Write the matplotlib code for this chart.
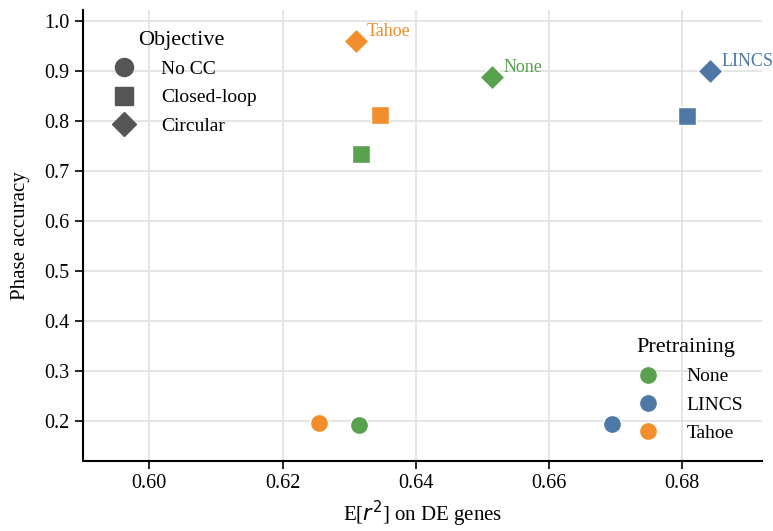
import matplotlib
matplotlib.use("Agg")
import matplotlib.pyplot as plt
from matplotlib.lines import Line2D

plt.rcParams['font.family'] = ['Liberation Serif', 'DejaVu Serif']

pretraining = ["None", "LINCS", "Tahoe"]
colors = {"None": "#59a14f", "LINCS": "#4e79a7", "Tahoe": "#f28e2b"}
objectives = ["No CC", "Closed-loop", "Circular"]
markers = {"No CC": "o", "Closed-loop": "s", "Circular": "D"}

# values per pretraining: [No CC, Closed-loop, Circular]
r2_none = [0.6315, 0.6318, 0.6515]
acc_none = [0.192, 0.735, 0.888]
r2_lincs = [0.6695, 0.6807, 0.6842]
acc_lincs = [0.193, 0.810, 0.900]
r2_tahoe = [0.6255, 0.6347, 0.6310]
acc_tahoe = [0.196, 0.812, 0.961]

data = {"None": (r2_none, acc_none), "LINCS": (r2_lincs, acc_lincs), "Tahoe": (r2_tahoe, acc_tahoe)}
sizes = {"No CC": 170, "Closed-loop": 165, "Circular": 160}

fig = plt.figure(figsize=(7.73, 5.31), dpi=100)
ax = fig.add_axes([0.107, 0.132, 0.879, 0.849])

for p in pretraining:
    xs, ys = data[p]
    for i, o in enumerate(objectives):
        ax.scatter(xs[i], ys[i], marker=markers[o], s=sizes[o], color=colors[p],
                   edgecolor="white", linewidth=1.0, zorder=3)
    ax.annotate(p, (xs[2], ys[2]), xytext=(8, 0.5), textcoords="offset points",
                color=colors[p], fontsize=13, va="bottom", ha="left")

ax.set_xlim(0.590, 0.692)
ax.set_ylim(0.12, 1.022)
ax.set_xticks([0.60, 0.62, 0.64, 0.66, 0.68])
ax.set_xticklabels(["0.60", "0.62", "0.64", "0.66", "0.68"])
ax.set_yticks([0.2, 0.3, 0.4, 0.5, 0.6, 0.7, 0.8, 0.9, 1.0])
ax.grid(True, color="#e0e0e0", linewidth=1.2, zorder=0)
ax.set_axisbelow(True)
for s in ["top", "right"]:
    ax.spines[s].set_visible(False)
for s in ["left", "bottom"]:
    ax.spines[s].set_linewidth(1.5)
ax.tick_params(labelsize=14.5, width=1.2, length=6)
ax.set_xlabel(r"E[$r^2$] on DE genes", fontsize=15, labelpad=4)
ax.set_ylabel("Phase accuracy", fontsize=15, labelpad=10)

h1 = [Line2D([], [], marker=markers[o], color="#555555", linestyle="",
             markersize=13 if o != "Circular" else 12) for o in objectives]
leg1 = ax.legend(h1, objectives, title="Objective", loc="upper left", frameon=False,
                 fontsize=14, title_fontsize=16, bbox_to_anchor=(0.007, 0.993),
                 handletextpad=0.9, labelspacing=0.55)
ax.add_artist(leg1)
h2 = [Line2D([], [], marker="o", color=colors[p], linestyle="", markersize=11) for p in pretraining]
ax.legend(h2, pretraining, title="Pretraining", loc="lower right", frameon=False,
          fontsize=14, title_fontsize=16, bbox_to_anchor=(0.998, 0.003),
          handletextpad=1.0, labelspacing=0.55)

fig.savefig("out.png", dpi=100)
